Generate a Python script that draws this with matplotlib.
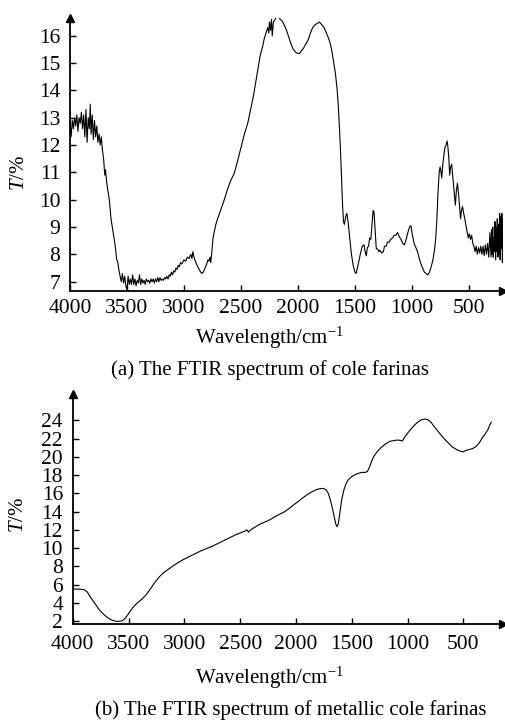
import matplotlib
matplotlib.use("Agg")
import matplotlib.pyplot as plt
import numpy as np

plt.rcParams['font.family'] = ['Liberation Serif', 'DejaVu Serif']
plt.rcParams['mathtext.fontset'] = 'custom'
plt.rcParams['mathtext.rm'] = 'Liberation Serif'
plt.rcParams['mathtext.it'] = 'Liberation Serif:italic'

# ---------------- data (a): cole farinas ----------------
wn_a = [4000, 3990, 3980, 3970, 3960, 3950, 3940, 3930, 3920, 3910, 3900, 3890, 3880, 3870,
        3860, 3850, 3840, 3830, 3822, 3815, 3805, 3795, 3785, 3775, 3765, 3755, 3745, 3735,
        3725, 3715, 3705, 3695, 3688, 3680, 3670, 3655, 3640, 3625, 3610, 3600, 3590, 3580,
        3570, 3560, 3550, 3540, 3530, 3520, 3510, 3500, 3490, 3480, 3470, 3460, 3450, 3440,
        3430, 3420, 3410, 3400, 3390, 3380, 3370, 3360, 3350, 3340, 3330, 3320, 3310, 3300,
        3290, 3280, 3270, 3260, 3250, 3240, 3230, 3220, 3210, 3200, 3190, 3180, 3170, 3160,
        3150, 3140, 3130, 3120, 3110, 3100, 3090, 3080, 3070, 3060, 3050, 3040, 3030, 3020,
        3000, 2985, 2970, 2955, 2940, 2930, 2922, 2912, 2900, 2880, 2860, 2845, 2830, 2815,
        2800, 2790, 2780, 2772, 2765, 2755, 2745, 2735, 2720, 2705, 2680, 2650, 2620, 2590,
        2560, 2530, 2500, 2470, 2440, 2420, 2410, 2390, 2370, 2350, 2330, 2310, 2295, 2280,
        2265, 2255, 2250, 2240, 2232, 2225, 2215, 2200, 2185, 2170, 2155, 2140, 2120, 2100,
        2080, 2060, 2040, 2020, 2000, 1985, 1970, 1950, 1930, 1910, 1890, 1870, 1850, 1830,
        1810, 1790, 1770, 1750, 1730, 1715, 1700, 1685, 1670, 1655, 1645, 1635, 1625, 1615,
        1608, 1600, 1592, 1580, 1570, 1560, 1545, 1530, 1515, 1500, 1490, 1480, 1465, 1450,
        1435, 1420, 1410, 1400, 1390, 1380, 1370, 1360, 1350, 1340, 1332, 1322, 1312, 1300,
        1290, 1280, 1265, 1250, 1240, 1225, 1215, 1200, 1185, 1170, 1155, 1140, 1125, 1110,
        1095, 1080, 1065, 1050, 1035, 1020, 1008, 995, 980, 965, 950, 935, 920, 905,
        890, 875, 860, 845, 830, 815, 800, 790, 780, 770, 760, 752, 745, 738,
        730, 720, 710, 700, 690, 683, 675, 668, 660, 650, 642, 635, 627, 618,
        610, 600, 590, 580, 572, 565, 555, 545, 535, 525, 515, 505, 495, 485,
        475, 465, 455, 445, 435, 425, 415, 405, 395, 385, 375, 365, 355, 345,
        335, 325, 315, 305, 300, 295, 290, 285, 280, 275, 270, 265, 260, 255,
        250, 245, 240, 235, 230, 225, 220, 215, 210, 205, 200, 195, 190]
t_a = [12.9, 12.3, 12.9, 12.6, 13.0, 12.7, 13.1, 12.5, 13.0, 12.8, 13.2, 12.6, 13.1, 12.3,
       13.3, 12.1, 13.0, 12.6, 13.5, 12.4, 13.1, 12.2, 12.9, 12.3, 12.7, 12.1, 12.4, 12.0,
       12.3, 11.8, 11.5, 10.9, 11.1, 10.7, 10.4, 10.0, 9.3, 8.9, 8.5, 8.2, 7.8, 7.7,
       7.4, 7.2, 7.0, 7.3, 6.95, 7.2, 6.85, 6.7, 7.2, 6.9, 7.1, 6.9, 7.25, 6.9,
       7.1, 6.85, 7.05, 6.95, 7.25, 6.9, 7.1, 6.95, 7.05, 6.9, 7.1, 7.0, 7.05, 6.95,
       7.1, 7.0, 7.1, 6.95, 7.1, 7.0, 7.15, 7.0, 7.15, 7.05, 7.1, 7.05, 7.15, 7.1,
       7.2, 7.1, 7.25, 7.2, 7.35, 7.25, 7.4, 7.35, 7.5, 7.45, 7.6, 7.55, 7.7, 7.65,
       7.8, 7.75, 7.9, 7.85, 8.0, 7.85, 8.1, 7.9, 7.75, 7.55, 7.4, 7.3, 7.35, 7.5,
       7.65, 7.8, 7.75, 7.9, 7.7, 8.1, 8.6, 8.8, 9.1, 9.3, 9.6, 9.95, 10.35, 10.7,
       10.95, 11.4, 11.9, 12.4, 12.8, 13.2, 13.4, 13.8, 14.3, 14.8, 15.3, 15.6, 15.9, 16.1,
       16.3, 16.1, 16.5, 16.2, 16.6, 16.0, 16.5, 16.6, 16.7, 16.7, 16.6, 16.55, 16.4, 16.2,
       15.95, 15.7, 15.5, 15.4, 15.35, 15.35, 15.45, 15.55, 15.7, 15.85, 16.1, 16.3, 16.4, 16.45,
       16.5, 16.4, 16.3, 16.1, 15.9, 15.7, 15.4, 15.0, 14.6, 14.0, 13.4, 12.6, 11.7, 10.6,
       9.8, 9.2, 9.1, 9.4, 9.5, 9.2, 8.6, 8.0, 7.6, 7.35, 7.3, 7.45, 7.75, 8.05,
       8.3, 8.35, 8.1, 7.95, 8.25, 8.3, 8.6, 8.55, 9.1, 9.6, 9.55, 8.9, 8.2, 8.2,
       8.1, 8.15, 8.05, 8.1, 8.3, 8.3, 8.45, 8.45, 8.55, 8.6, 8.7, 8.7, 8.8, 8.65,
       8.55, 8.4, 8.35, 8.55, 8.8, 9.0, 9.05, 8.7, 8.4, 8.25, 8.1, 7.85, 7.65, 7.5,
       7.35, 7.3, 7.25, 7.35, 7.55, 7.8, 8.2, 8.6, 9.3, 10.3, 11.0, 11.2, 11.05, 10.8,
       11.2, 11.6, 11.9, 12.0, 12.15, 11.9, 11.5, 10.9, 11.2, 11.3, 10.9, 10.6, 10.2, 9.8,
       10.3, 10.6, 10.2, 9.7, 9.3, 9.6, 9.75, 9.5, 9.3, 9.05, 8.85, 8.6, 8.75, 8.55,
       8.7, 8.4, 8.3, 8.1, 8.3, 8.0, 8.25, 8.05, 8.3, 8.0, 8.3, 7.95, 8.35, 8.0,
       8.4, 7.9, 8.8, 7.9, 8.9, 8.0, 9.0, 7.9, 8.6, 8.1, 9.2, 7.8, 9.0, 8.1,
       9.3, 7.9, 9.1, 8.0, 9.5, 7.8, 9.4, 8.2, 9.5, 7.7, 9.3, 7.6, 9.9]

# ---------------- data (b): metallic cole farinas ----------------
wn_b = [3990, 3950, 3900, 3870, 3840, 3800, 3760, 3720, 3680, 3640, 3600, 3560, 3530, 3500,
        3460, 3420, 3380, 3340, 3300, 3260, 3220, 3180, 3140, 3100, 3050, 3000, 2950, 2900,
        2850, 2800, 2750, 2700, 2650, 2600, 2550, 2500, 2460, 2440, 2425, 2410, 2380, 2340,
        2300, 2260, 2220, 2180, 2140, 2100, 2060, 2020, 1980, 1940, 1900, 1860, 1820, 1790,
        1760, 1730, 1710, 1690, 1670, 1655, 1640, 1630, 1620, 1605, 1590, 1570, 1550, 1530,
        1500, 1470, 1440, 1410, 1380, 1360, 1340, 1320, 1300, 1270, 1240, 1200, 1160, 1120,
        1090, 1060, 1045, 1030, 1000, 960, 920, 880, 850, 820, 790, 760, 720, 680,
        640, 600, 560, 520, 500, 480, 450, 420, 390, 360, 330, 300, 280, 260, 250]
t_b = [5.5, 5.5, 5.45, 5.2, 4.6, 3.9, 3.2, 2.7, 2.3, 2.05, 1.95, 2.0, 2.3, 2.8,
       3.5, 4.0, 4.4, 4.9, 5.6, 6.3, 6.9, 7.35, 7.7, 8.05, 8.45, 8.8, 9.1, 9.4,
       9.7, 9.95, 10.2, 10.5, 10.8, 11.1, 11.4, 11.65, 11.85, 12.0, 11.75, 11.95, 12.2, 12.5,
       12.75, 12.95, 13.2, 13.5, 13.75, 14.0, 14.35, 14.75, 15.1, 15.5, 15.85, 16.15, 16.4, 16.5,
       16.55, 16.4, 16.0, 15.2, 14.2, 13.3, 12.5, 12.35, 12.7, 14.0, 15.3, 16.4, 17.1, 17.5,
       17.85, 18.05, 18.2, 18.3, 18.3, 18.4, 18.9, 19.6, 20.1, 20.6, 21.0, 21.4, 21.7, 21.8,
       21.85, 21.8, 21.75, 22.1, 22.6, 23.2, 23.7, 24.05, 24.15, 24.1, 23.8, 23.3, 22.7, 22.1,
       21.6, 21.1, 20.8, 20.6, 20.55, 20.7, 20.8, 20.9, 21.1, 21.5, 22.1, 22.6, 23.0, 23.6, 23.8]

xticks = [4000, 3500, 3000, 2500, 2000, 1500, 1000, 500]
yticks_a = [7, 8, 9, 10, 11, 12, 13, 14, 15, 16]
yticks_b = [2, 4, 6, 8, 10, 12, 14, 16, 18, 20, 22, 24]
caption_a = "(a) The FTIR spectrum of cole farinas"
caption_b = "(b) The FTIR spectrum of metallic cole farinas"
xlabel = "Wavelength/cm$^{-1}$"
ylabel = "$\\it{T}$/%"

W, H = 506, 723
fig = plt.figure(figsize=(W / 100, H / 100), dpi=100)
TS = 15.5
LS = 15


def style(ax, xlim, ylim, yticks, xpad):
    ax.set_xlim(*xlim)
    ax.set_ylim(*ylim)
    ax.set_xticks(xticks)
    ax.set_yticks(yticks)
    for s in ['top', 'right']:
        ax.spines[s].set_visible(False)
    for s in ['left', 'bottom']:
        ax.spines[s].set_linewidth(1.3)
    ax.tick_params(direction='in', length=4, width=1, labelsize=TS)
    ax.tick_params(axis='y', pad=7)
    ax.tick_params(axis='x', pad=xpad)
    ax.plot([0], [1], marker='^', color='k', markersize=6, transform=ax.transAxes, clip_on=False)
    ax.plot([1], [0], marker='>', color='k', markersize=6, transform=ax.transAxes, clip_on=False)


def labels(ax, x0, y0, w, h, xl_xy, yl_xy):
    ax.set_xlabel(xlabel, fontsize=LS, va='center')
    ax.xaxis.set_label_coords((xl_xy[0] - x0) / w, (y0 - xl_xy[1]) / h)
    ax.set_ylabel(ylabel, fontsize=LS, va='center')
    ax.yaxis.set_label_coords((yl_xy[0] - x0) / w, (y0 - yl_xy[1]) / h)


# top axes (pixel frame)
x0, x1, yb, yt = 70, 503, 291, 18
ax1 = fig.add_axes([x0 / W, 1 - yb / H, (x1 - x0) / W, (yb - yt) / H])
ax1.plot(wn_a, t_a, color='k', lw=0.8)
style(ax1, (4000, 200), (6.66, 16.65), yticks_a, 6)
labels(ax1, x0, yb, x1 - x0, yb - yt, (270, 338), (19, 173))

# bottom axes (pixel frame)
x0, x1, yb, yt = 72.7, 503, 624.3, 394
ax2 = fig.add_axes([x0 / W, 1 - yb / H, (x1 - x0) / W, (yb - yt) / H])
ax2.plot(wn_b, t_b, color='k', lw=0.8)
style(ax2, (4000, 145), (1.64, 26.9), yticks_b, 8)
labels(ax2, x0, yb, x1 - x0, yb - yt, (270, 678), (19, 515))

fig.text(270 / W, 1 - 370 / H, caption_a, ha='center', va='center', fontsize=LS)
fig.text(291 / W, 1 - 710 / H, caption_b, ha='center', va='center', fontsize=LS)

fig.savefig("out.png", dpi=100)
